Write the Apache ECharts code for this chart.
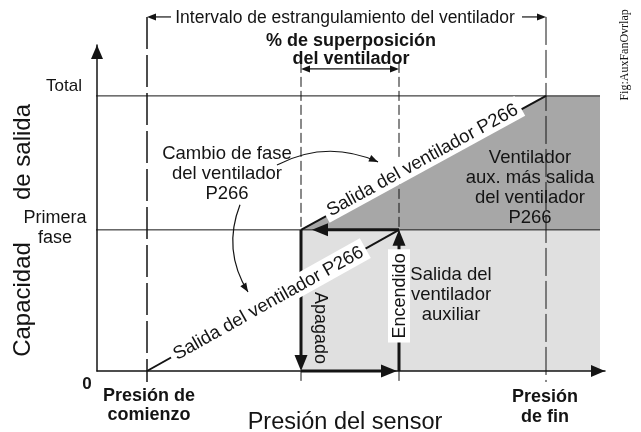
<!DOCTYPE html>
<html>
<head>
<meta charset="utf-8">
<script src="https://cdn.jsdelivr.net/npm/echarts@6/dist/echarts.min.js"></script>
<style>
  html, body { margin: 0; padding: 0; background: #fff; }
  #myChart { width: 641px; height: 432px; }
</style>
</head>
<body>
<div id="myChart"></div>
<script>
  // presión del sensor (eje x): comienzo, apagado, encendido, fin, borde del sombreado
  const pressures = [1.0, 4.08, 6.04, 8.98, 10.06]
  // capacidad de salida (eje y, % del total): 0, primera fase, total
  const levels = [0, 51.3, 100]

  const [pStart, pOff, pOn, pEnd, pEdge] = pressures
  const [cap0, capFirst, capTotal] = levels

  // salida del ventilador P266 (dos rampas)
  const p266Low = [[pStart, cap0], [pOn, capFirst]]
  const p266High = [[pOff, capFirst], [pEnd, capTotal]]

  // zonas sombreadas (borde superior, se rellena hasta "origin")
  const zoneAux = [[pOff, capFirst], [pEdge, capFirst]]
  const zoneBoth = [[pOff, capFirst], [pEnd, capTotal], [pEdge, capTotal]]

  const INK = '#141414'
  const FONT = '"Liberation Sans", Arial, sans-serif'
  const SERIF = '"Liberation Serif", "Times New Roman", serif'
  const X_MAX = 10.16
  const Y_MAX = 118.5
  const TOP = 128.7   // altura de la cota superior
  const LOW = -4      // marcas bajo el eje x

  // flechas: ciclo de histéresis, cotas y flechas curvas
  const arrows = [
    { from: [pOn, capFirst], to: [pOff + 0.22, capFirst], kind: 'thick' },
    { from: [pOff, capFirst], to: [pOff, cap0], kind: 'thick' },
    { from: [pOff, cap0], to: [pOn - 0.04, cap0], kind: 'thick' },
    { from: [pOn, cap0], to: [pOn, capFirst], kind: 'thick' },
    { from: [pStart + 0.48, TOP], to: [pStart, TOP], kind: 'thin' },
    { from: [pEnd - 0.48, TOP], to: [pEnd, TOP], kind: 'thin' },
    { from: [(pOff + pOn) / 2, 109.8], to: [pOff, 109.8], kind: 'thin' },
    { from: [(pOff + pOn) / 2, 109.8], to: [pOn, 109.8], kind: 'thin' },
    { from: [3.6, 74.9], to: [5.62, 76.0], kind: 'thin', bend: 0.24 },
    { from: [2.86, 60.4], to: [3.02, 28.7], kind: 'thin', bend: -0.25 }
  ]
  const arrowStyles = {
    thick: { w: 3, len: 16, hw: 6.5 },
    thin: { w: 1.2, len: 9, hw: 3.5 }
  }

  // textos
  const notes = [
    { text: 'Intervalo de estrangulamiento del ventilador', at: [4.96, 128.7], size: 17.5 },
    { text: '% de superposición\ndel ventilador', at: [5.08, 117.1], size: 18, bold: true, lh: 18 },
    { text: 'Total', at: [-0.66, 104.0], size: 17 },
    { text: 'Primera\nfase', at: [-0.84, 52.4], size: 18, lh: 20 },
    { text: '0', at: [-0.2, -4.4], size: 17, bold: true },
    { text: 'Presión de\ncomienzo', at: [1.04, -12.2], size: 18, bold: true, lh: 19 },
    { text: 'Presión\nde fin', at: [8.96, -12.9], size: 18, bold: true, lh: 20 },
    { text: 'Presión del sensor', at: [4.96, -18.2], size: 23.5 },
    { text: 'Cambio de fase\ndel ventilador\nP266', at: [2.6, 72.0], size: 18.5, lh: 20 },
    { text: 'Ventilador\naux. más salida\ndel ventilador\nP266', at: [8.66, 66.9], size: 18.5, lh: 20 },
    { text: 'Salida del\nventilador\nauxiliar', at: [7.08, 28.0], size: 18.5, lh: 20 },
    { text: 'Apagado', at: [4.48, 15.6], size: 18, rot: -90 },
    { text: 'Encendido', at: [6.04, 27.3], size: 18, rot: 90, box: true },
    { text: 'Salida del ventilador P266', at: [3.42, 24.9], size: 18.5, rot: 29.2, box: true },
    { text: 'Salida del ventilador P266', at: [6.5, 76.9], size: 18.5, rot: 28.7, box: true },
    { text: 'Fig:AuxFanOvrlap', at: [10.54, 114.9], size: 12, rot: 90, serif: true },
    { text: 'de salida', at: [-1.5, 79.6], size: 24, rot: 90 },
    { text: 'Capacidad', at: [-1.5, 26.0], size: 24, rot: 90 }
  ]

  // para medir el ancho de los textos con caja blanca
  const measureCtx = document.createElement('canvas').getContext('2d')
  function textWidth(str, size) {
    measureCtx.font = size + 'px ' + FONT
    return measureCtx.measureText(str).width
  }

  function seg(data, width, type) {
    return {
      type: 'line', data: data, symbol: 'none', clip: false, silent: true, z: -2,
      lineStyle: { color: INK, width: width, type: type || 'solid' }
    }
  }

  function zone(data, color, origin) {
    return {
      type: 'line', data: data, symbol: 'none', silent: true, z: -3,
      lineStyle: { width: 0, opacity: 0 },
      areaStyle: { color: color, opacity: 1, origin: origin }
    }
  }

  function head(from, tip, len, hw) {
    let dx = tip[0] - from[0], dy = tip[1] - from[1]
    const d = Math.sqrt(dx * dx + dy * dy) || 1
    dx /= d; dy /= d
    const bx = tip[0] - dx * len, by = tip[1] - dy * len
    return {
      type: 'polygon', z2: 1,
      shape: { points: [tip, [bx - dy * hw, by + dx * hw], [bx + dy * hw, by - dx * hw]] },
      style: { fill: INK }
    }
  }

  const axisLine = {
    show: true, symbol: ['none', 'triangle'], symbolSize: [12, 14], symbolOffset: [0, -7],
    lineStyle: { color: INK, width: 1.5 }
  }

  let myChart = echarts.init(document.getElementById('myChart'))
  myChart.setOption({
    animation: false,
    grid: { left: 97, right: 36, top: 45, bottom: 61 },
    xAxis: {
      type: 'value', min: 0, max: X_MAX, axisLine: axisLine,
      axisTick: { show: false }, axisLabel: { show: false }, splitLine: { show: false }
    },
    yAxis: {
      type: 'value', min: 0, max: Y_MAX, axisLine: axisLine,
      axisTick: { show: false }, axisLabel: { show: false }, splitLine: { show: false }
    },
    series: [
      zone(zoneAux, '#e0e0e0', cap0),
      zone(zoneBoth, '#a7a7a7', capFirst),
      seg([[-0.3, capTotal], [pEdge, capTotal]], 1),
      seg([[-0.3, capFirst], [pEdge, capFirst]], 1),
      seg([[pStart, TOP], [pStart, LOW]], 1.5, [32, 6]),
      seg([[pOff, 112], [pOff, LOW]], 1, [10, 4]),
      seg([[pOn, 112], [pOn, LOW]], 1, [10, 4]),
      seg([[pEnd, TOP], [pEnd, LOW]], 1, [28, 5]),
      seg(p266Low, 2),
      seg(p266High, 2),
      {
        // flechas
        type: 'custom', z: 4, clip: false, silent: true,
        data: arrows.map((a, i) => [i, 0]),
        renderItem(params, api) {
          const a = arrows[params.dataIndex]
          const st = arrowStyles[a.kind]
          const p1 = api.coord(a.from), p2 = api.coord(a.to)
          const children = []
          let dirFrom = p1
          if (a.bend) {
            const cx = (p1[0] + p2[0]) / 2 - (p1[1] - p2[1]) * a.bend
            const cy = (p1[1] + p2[1]) / 2 - (p2[0] - p1[0]) * a.bend
            children.push({
              type: 'bezierCurve', z2: 1,
              shape: { x1: p1[0], y1: p1[1], x2: p2[0], y2: p2[1], cpx1: cx, cpy1: cy },
              style: { stroke: INK, lineWidth: st.w, fill: 'none' }
            })
            dirFrom = [cx, cy]
          } else {
            let dx = p2[0] - p1[0], dy = p2[1] - p1[1]
            const d = Math.sqrt(dx * dx + dy * dy) || 1
            const cut = st.len * 0.6
            children.push({
              type: 'line', z2: 1,
              shape: { x1: p1[0], y1: p1[1], x2: p2[0] - dx / d * cut, y2: p2[1] - dy / d * cut },
              style: { stroke: INK, lineWidth: st.w }
            })
          }
          children.push(head(dirFrom, p2, st.len, st.hw))
          return { type: 'group', children: children }
        }
      },
      {
        // textos
        type: 'custom', z: 6, clip: false, silent: true,
        data: notes.map((n, i) => [i, 0]),
        renderItem(params, api) {
          const n = notes[params.dataIndex]
          const p = api.coord(n.at)
          const children = []
          if (n.box) {
            const w = textWidth(n.text, n.size) + 8
            const h = n.size + 4
            children.push({
              type: 'rect', z2: 5,
              shape: { x: -w / 2, y: -h / 2, width: w, height: h },
              style: { fill: '#fff' }
            })
          }
          children.push({
            type: 'text', z2: 6,
            style: {
              x: 0, y: 1,
              text: n.text,
              fill: INK,
              fontFamily: n.serif ? SERIF : FONT,
              fontSize: n.size,
              fontWeight: n.bold ? 'bold' : 'normal',
              lineHeight: n.lh || n.size + 2,
              align: 'center', verticalAlign: 'middle'
            }
          })
          return {
            type: 'group',
            x: p[0], y: p[1],
            rotation: (n.rot || 0) * Math.PI / 180,
            children: children
          }
        }
      }
    ]
  })
  window.addEventListener('resize', () => {
    myChart.resize()
  })
</script>
</body>
</html>
